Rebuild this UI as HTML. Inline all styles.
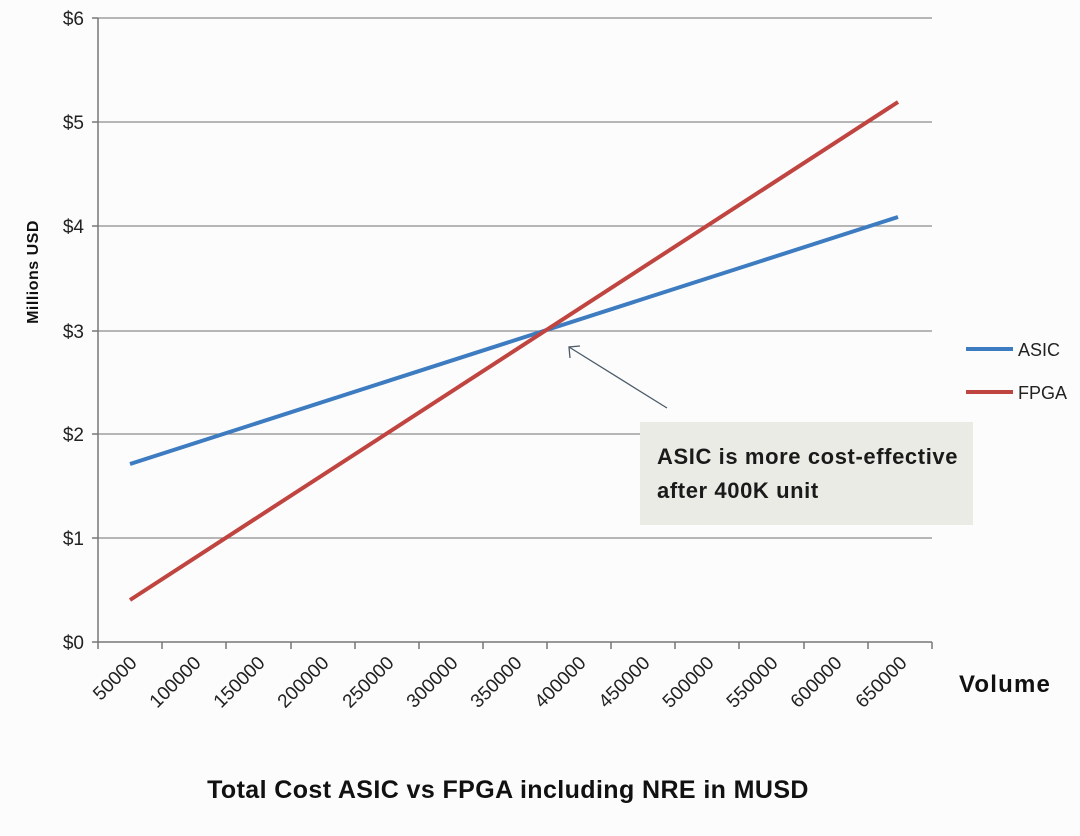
<!DOCTYPE html>
<html><head><style>body{margin:0;background:#fcfcfd}</style></head><body>
<svg width="1080" height="831" xmlns="http://www.w3.org/2000/svg" font-family="Liberation Sans, sans-serif">
<rect width="1080" height="831" fill="#fcfcfd"/>
<g stroke="#8c8c8c" stroke-width="1.3">
<line x1="98" y1="18" x2="932" y2="18"/><line x1="98" y1="122" x2="932" y2="122"/>
<line x1="98" y1="226" x2="932" y2="226"/><line x1="98" y1="331" x2="932" y2="331"/>
<line x1="98" y1="434" x2="932" y2="434"/><line x1="98" y1="538" x2="932" y2="538"/>
</g>
<g stroke="#777" stroke-width="1.5">
<line x1="98" y1="18" x2="98" y2="642"/><line x1="92" y1="642" x2="932" y2="642"/>
<line x1="92" y1="18" x2="98" y2="18"/><line x1="92" y1="122" x2="98" y2="122"/><line x1="92" y1="226" x2="98" y2="226"/><line x1="92" y1="331" x2="98" y2="331"/><line x1="92" y1="434" x2="98" y2="434"/><line x1="92" y1="538" x2="98" y2="538"/>
<line x1="98" y1="642" x2="98" y2="649"/><line x1="162" y1="642" x2="162" y2="649"/><line x1="226" y1="642" x2="226" y2="649"/><line x1="291" y1="642" x2="291" y2="649"/><line x1="355" y1="642" x2="355" y2="649"/><line x1="419" y1="642" x2="419" y2="649"/><line x1="483" y1="642" x2="483" y2="649"/><line x1="547" y1="642" x2="547" y2="649"/><line x1="611" y1="642" x2="611" y2="649"/><line x1="675" y1="642" x2="675" y2="649"/><line x1="739" y1="642" x2="739" y2="649"/><line x1="804" y1="642" x2="804" y2="649"/><line x1="868" y1="642" x2="868" y2="649"/><line x1="932" y1="642" x2="932" y2="649"/>
</g>
<g font-size="19" fill="#222" text-anchor="end">
<text x="84" y="25">$6</text><text x="84" y="129">$5</text><text x="84" y="233">$4</text><text x="84" y="338">$3</text><text x="84" y="441">$2</text><text x="84" y="545">$1</text><text x="84" y="649">$0</text>
</g>
<g font-size="19" fill="#222" text-anchor="end">
<text transform="translate(138,664) rotate(-45)">50000</text>
<text transform="translate(202,664) rotate(-45)">100000</text>
<text transform="translate(266,664) rotate(-45)">150000</text>
<text transform="translate(330,664) rotate(-45)">200000</text>
<text transform="translate(395,664) rotate(-45)">250000</text>
<text transform="translate(459,664) rotate(-45)">300000</text>
<text transform="translate(523,664) rotate(-45)">350000</text>
<text transform="translate(587,664) rotate(-45)">400000</text>
<text transform="translate(651,664) rotate(-45)">450000</text>
<text transform="translate(715,664) rotate(-45)">500000</text>
<text transform="translate(779,664) rotate(-45)">550000</text>
<text transform="translate(843,664) rotate(-45)">600000</text>
<text transform="translate(908,664) rotate(-45)">650000</text>
</g>
<text transform="translate(38,272) rotate(-90)" font-size="16" font-weight="bold" fill="#111" text-anchor="middle" letter-spacing="0.5">Millions  USD</text>
<text x="959" y="692" font-size="24" font-weight="bold" fill="#111" letter-spacing="1.2">Volume</text>
<text x="508" y="798" font-size="25" font-weight="bold" fill="#111" text-anchor="middle" letter-spacing="0.4">Total Cost ASIC vs FPGA including NRE in MUSD</text>
<line x1="130" y1="464" x2="898" y2="217" stroke="#3d7cc0" stroke-width="4"/>
<line x1="130" y1="600" x2="898" y2="102" stroke="#c0443f" stroke-width="4"/>
<rect x="640" y="422" width="333" height="103" fill="#ebebe6"/>
<text x="657" y="464" font-size="22" font-weight="bold" fill="#1a1a1a" letter-spacing="0.6">ASIC is more cost-effective</text>
<text x="657" y="498" font-size="22" font-weight="bold" fill="#1a1a1a" letter-spacing="0.6">after 400K unit</text>
<g stroke="#4a5a66" stroke-width="1.3" fill="none">
<line x1="667" y1="408" x2="569" y2="347"/>
<polyline points="570,358 569,347 580,346"/>
</g>
<line x1="966" y1="349" x2="1013" y2="349" stroke="#3d7cc0" stroke-width="4"/>
<text x="1018" y="356" font-size="18" fill="#222">ASIC</text>
<line x1="966" y1="392" x2="1013" y2="392" stroke="#c0443f" stroke-width="4"/>
<text x="1018" y="399" font-size="18" fill="#222">FPGA</text>
</svg>
</body></html>
